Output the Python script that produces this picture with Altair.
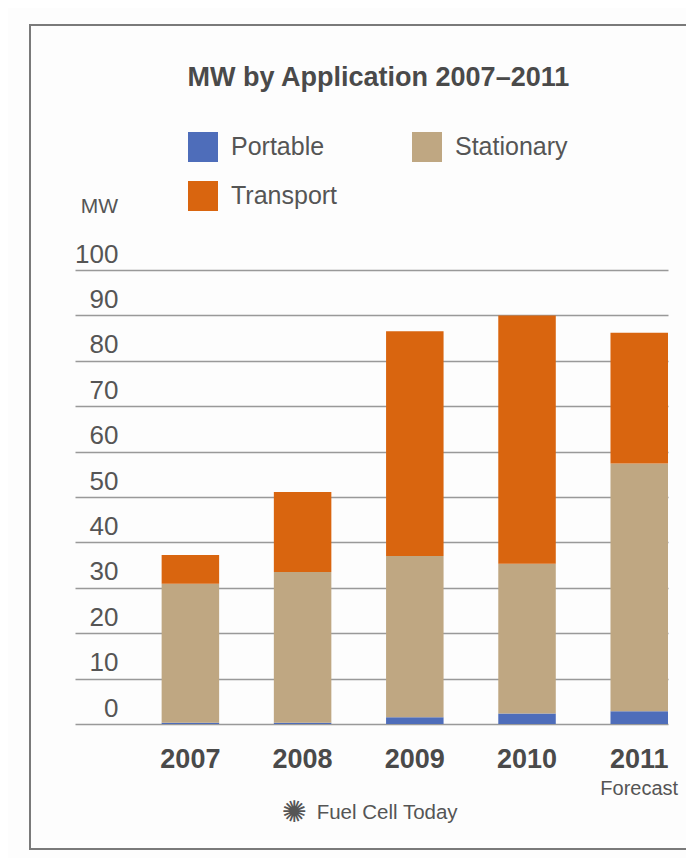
import altair as alt
import pandas as pd

# ---- data ----
years = ["2007", "2008", "2009", "2010", "2011"]
applications = ["Portable", "Stationary", "Transport"]
portable = [0.3, 0.3, 1.5, 2.3, 2.8]
stationary = [30.6, 33.2, 35.5, 33.0, 54.6]
transport = [6.3, 17.6, 49.5, 54.7, 28.8]
y_ticks = [0, 10, 20, 30, 40, 50, 60, 70, 80, 90, 100]
colors = ["#4e6dba", "#bfa782", "#d9650f"]
title_text = "MW by Application 2007\u20132011"
unit_text = "MW"
note_year = ["2011"]
note_text = ["Forecast"]
source_text = "Fuel Cell Today"

rows = []
for i, yr in enumerate(years):
    for k, (app, vals) in enumerate(zip(applications, [portable, stationary, transport])):
        rows.append({"year": yr, "application": app, "mw": vals[i], "order": k})
df = pd.DataFrame(rows)

NARROW = "Liberation Sans Narrow, Arial Narrow, Liberation Sans"
REG = "Liberation Sans, Arial"
W, H = 593, 454

x_scale = alt.Scale(domain=years, paddingInner=0.4875, paddingOuter=0.386, align=1)
one = pd.DataFrame({"k": [0]})

frame = alt.Chart(one).mark_rect(
    fillOpacity=0, stroke="#7a7a7a", strokeWidth=2
).encode(
    x=alt.value(-45), x2=alt.value(640), y=alt.value(-245), y2=alt.value(579)
)

bars = alt.Chart(df).mark_bar().encode(
    x=alt.X("year:N", scale=x_scale, sort=years,
            axis=alt.Axis(title=None, labelFont=NARROW, labelFontSize=27,
                          labelFontWeight="bold", labelColor="#4a4a4a",
                          labelPadding=22, ticks=False, domain=False,
                          labelAngle=0, grid=False)),
    y=alt.Y("mw:Q", stack="zero", scale=alt.Scale(domain=[0, 100], nice=False),
            axis=alt.Axis(title=None, values=y_ticks, grid=True,
                          gridColor="#999999", gridWidth=1.6, ticks=False,
                          tickSize=0, domain=False, labelPadding=-43,
                          labelAlign="right", labelBaseline="alphabetic",
                          labelOffset=-8, labelFont=NARROW, labelFontSize=26,
                          labelColor="#555555")),
    color=alt.Color("application:N",
                    scale=alt.Scale(domain=applications, range=colors),
                    legend=alt.Legend(title=None, orient="none", legendX=113,
                                      legendY=-138, direction="horizontal",
                                      columns=2, symbolType="square",
                                      symbolSize=900, symbolStrokeWidth=0,
                                      symbolOpacity=1,
                                      labelFont=NARROW, labelFontSize=25,
                                      labelColor="#555555", labelOffset=13,
                                      columnPadding=74, rowPadding=19,
                                      padding=0)),
    order=alt.Order("order:Q"),
)

forecast = alt.Chart(pd.DataFrame({"year": note_year, "note": note_text})).mark_text(
    font=REG, fontSize=20, color="#555555", baseline="alphabetic", align="center"
).encode(
    x=alt.X("year:N", scale=x_scale, sort=years),
    y=alt.value(525),
    text="note:N",
)

title = alt.Chart(pd.DataFrame({"t": [title_text]})).mark_text(
    font=NARROW, fontSize=27, fontWeight="bold", color="#4a4a4a",
    baseline="alphabetic", align="center"
).encode(x=alt.value(303.4), y=alt.value(-184), text="t:N")

unit = alt.Chart(pd.DataFrame({"t": [unit_text]})).mark_text(
    font=NARROW, fontSize=21, color="#555555", baseline="alphabetic", align="right"
).encode(x=alt.value(43), y=alt.value(-57), text="t:N")

star = alt.Chart(pd.DataFrame({"t": ["\u273a"]})).mark_text(
    font="DejaVu Sans", fontSize=30, color="#555555", baseline="middle", align="center"
).encode(x=alt.value(219), y=alt.value(543), text="t:N")

source = alt.Chart(pd.DataFrame({"t": [source_text]})).mark_text(
    font=REG, fontSize=20.5, color="#555555", baseline="alphabetic", align="left"
).encode(x=alt.value(241.7), y=alt.value(549.3), text="t:N")

chart = alt.layer(frame, bars, forecast, title, unit, star, source).properties(
    width=W, height=H,
    padding={"left": 67, "top": 262, "right": 18, "bottom": 134},
    autosize=alt.AutoSizeParams(type="none"),
    background="#fdfdfd",
).configure_view(strokeWidth=0)

chart.save("out.html", embed_options={"renderer": "svg", "actions": False})
